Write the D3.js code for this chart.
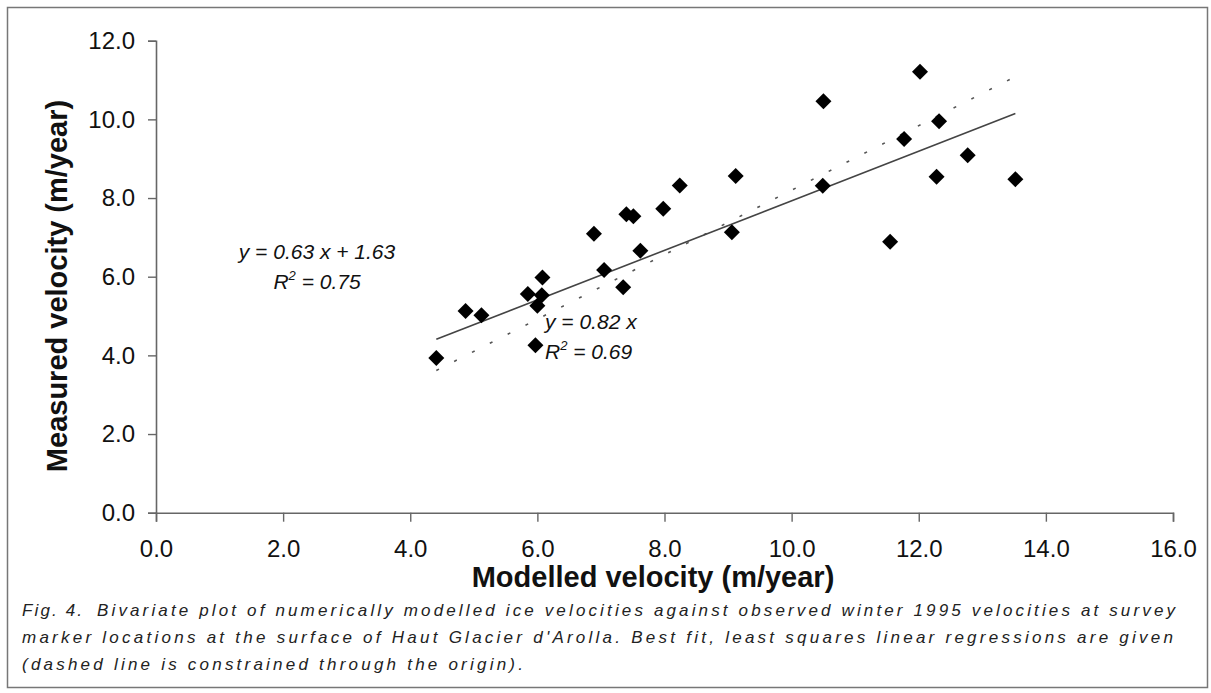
<!DOCTYPE html>
<html>
<head>
<meta charset="utf-8">
<script src="https://cdn.jsdelivr.net/npm/d3@7"></script>
<style>
  html, body { margin: 0; padding: 0; background: #fff; }
  svg { display: block; }
  text { font-family: "Liberation Sans", Arial, sans-serif; }
</style>
</head>
<body>
<svg id="chart" width="1211" height="693"></svg>
<script>
// Modelled vs measured surface velocities (m/year) at survey markers
const modelled = [4.41, 4.87, 5.12, 5.85, 6.07, 6.00, 6.08, 5.97, 7.05, 7.35, 7.62, 6.89, 7.40, 7.51,
                  7.98, 8.24, 9.12, 9.06, 10.50, 12.02, 12.32, 11.77, 12.77, 12.28, 13.52, 10.49, 11.55];
const measured = [3.93, 5.13, 5.02, 5.56, 5.53, 5.26, 5.98, 4.26, 6.17, 5.73, 6.66, 7.09, 7.59, 7.54,
                  7.73, 8.32, 8.56, 7.13, 10.46, 11.21, 9.95, 9.50, 9.09, 8.54, 8.48, 8.31, 6.89];

// Regression fits
const fitFree = { slope: 0.63, intercept: 1.63, r2: 0.75 };
const fitOrigin = { slope: 0.82, intercept: 0, r2: 0.69 };

const xTicks = [0, 2, 4, 6, 8, 10, 12, 14, 16];
const xMinorTicks = [1, 3, 5, 7, 9, 11, 13, 15];
const yTicks = [0, 2, 4, 6, 8, 10, 12];
const yMinorTicks = [1, 3, 5, 7, 9, 11];

const xTitle = "Modelled velocity (m/year)";
const yTitle = "Measured velocity (m/year)";
const captionLabel = "Fig. 4.";
const captionLines = [
  "Bivariate plot of numerically modelled ice velocities against observed winter 1995 velocities at survey",
  "marker locations at the surface of Haut Glacier d'Arolla.  Best fit, least squares linear regressions are given",
  "(dashed line is constrained through the origin)."
];

const svg = d3.select("#chart");

// frame around figure and caption
svg.append("rect")
  .attr("x", 7.5).attr("y", 7.5).attr("width", 1200).attr("height", 680)
  .attr("fill", "none").attr("stroke", "#777").attr("stroke-width", 1.5);

const x = d3.scaleLinear().domain([0, 16]).range([156, 1173]);
const y = d3.scaleLinear().domain([0, 12]).range([512.7, 40.7]);

const axisColor = "#666";

// x axis: major + minor ticks
const gx = svg.append("g").attr("transform", `translate(0,${y(0)})`);
gx.call(d3.axisBottom(x).tickValues(xMinorTicks).tickSize(5).tickFormat(""));
gx.call(d3.axisBottom(x).tickValues(xTicks).tickSize(9).tickPadding(18)
  .tickFormat(d3.format(".1f")));
gx.selectAll(".domain").attr("stroke", axisColor).attr("stroke-width", 1.6);
gx.selectAll(".tick line").attr("stroke", axisColor).attr("stroke-width", 1.4);
gx.selectAll(".tick text").attr("font-size", 24).attr("fill", "#111")
  .attr("font-family", "Liberation Sans, Arial, sans-serif");

// y axis
const gy = svg.append("g").attr("transform", `translate(${x(0)},0)`);
gy.call(d3.axisLeft(y).tickValues(yMinorTicks).tickSize(8).tickFormat(""));
gy.call(d3.axisLeft(y).tickValues(yTicks).tickSize(8).tickPadding(13)
  .tickFormat(d3.format(".1f")));
gy.selectAll(".domain").attr("stroke", axisColor).attr("stroke-width", 1.6);
gy.selectAll(".tick line").attr("stroke", axisColor).attr("stroke-width", 1.4);
gy.selectAll(".tick text").attr("font-size", 24).attr("fill", "#111")
  .attr("font-family", "Liberation Sans, Arial, sans-serif");

// axis titles
svg.append("text")
  .attr("x", 653).attr("y", 587)
  .attr("text-anchor", "middle")
  .attr("font-size", 29).attr("font-weight", "bold").attr("fill", "#111")
  .text(xTitle);

svg.append("text")
  .attr("transform", "translate(67,286) rotate(-90)")
  .attr("text-anchor", "middle")
  .attr("font-size", 29).attr("font-weight", "bold").attr("fill", "#111")
  .text(yTitle);

// regression lines over the observed modelled range
const xMin = d3.min(modelled), xMax = d3.max(modelled);
const line = d3.line().x(d => x(d[0])).y(d => y(d[1]));
const fitPoints = f => [xMin, xMax].map(v => [v, f.slope * v + f.intercept]);

svg.append("path")
  .attr("d", line(fitPoints(fitOrigin)))
  .attr("fill", "none").attr("stroke", "#555").attr("stroke-width", 1.6)
  .attr("stroke-dasharray", "3,17");

svg.append("path")
  .attr("d", line(fitPoints(fitFree)))
  .attr("fill", "none").attr("stroke", "#444").attr("stroke-width", 1.6);

// diamond markers
const r = 8;
svg.append("g").selectAll("path")
  .data(modelled.map((m, i) => [m, measured[i]]))
  .join("path")
  .attr("d", d => {
    const cx = x(d[0]), cy = y(d[1]);
    return `M${cx},${cy - r}L${cx + r},${cy}L${cx},${cy + r}L${cx - r},${cy}Z`;
  })
  .attr("fill", "#000");

// equation labels
function equation(g, px, py, anchor, eq, r2) {
  g.append("text").attr("x", px).attr("y", py)
    .attr("text-anchor", anchor).attr("font-size", 21)
    .attr("font-style", "italic").attr("fill", "#111").text(eq);
  const t2 = g.append("text").attr("x", px).attr("y", py + 30)
    .attr("text-anchor", anchor).attr("font-size", 21)
    .attr("font-style", "italic").attr("fill", "#111");
  t2.append("tspan").text("R");
  t2.append("tspan").attr("font-size", 13).attr("dy", -9).text("2");
  t2.append("tspan").attr("dy", 9).text("  = " + r2.toFixed(2));
}
const lab = svg.append("g");
equation(lab, 317, 259, "middle",
  `y = ${fitFree.slope.toFixed(2)} x + ${fitFree.intercept.toFixed(2)}`, fitFree.r2);
equation(lab, 545, 329, "start",
  `y = ${fitOrigin.slope.toFixed(2)} x`, fitOrigin.r2);

// caption: widely tracked italic text
const cap = svg.append("g").attr("font-size", 17).attr("font-style", "italic").attr("fill", "#222");
const capRows = [
  { text: captionLabel, x: 22, y: 616, end: 82 },
  { text: captionLines[0], x: 97, y: 616, end: 1175 },
  { text: captionLines[1], x: 22, y: 643, end: 1173 },
  { text: captionLines[2], x: 22, y: 670, end: null }
];
const capNodes = capRows.map(rw => cap.append("text").attr("x", rw.x).attr("y", rw.y).text(rw.text));
// tracking taken from the full second line and reused for the short last line
const natural2 = capNodes[2].node().getComputedTextLength();
const track = (capRows[2].end - capRows[2].x - natural2) / (captionLines[1].length - 1);
capRows.forEach((rw, i) => {
  const nat = capNodes[i].node().getComputedTextLength();
  const len = rw.end !== null ? rw.end - rw.x : nat + track * (rw.text.length - 1);
  capNodes[i].attr("textLength", len).attr("lengthAdjust", "spacing");
});
</script>
</body>
</html>
